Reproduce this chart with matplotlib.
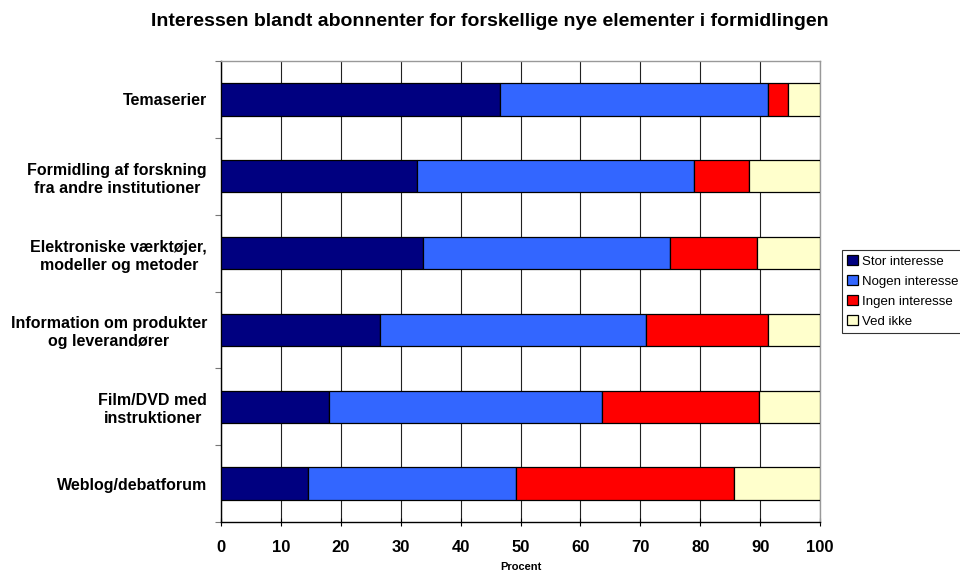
import matplotlib.pyplot as plt
import numpy as np

plt.rcParams['font.family'] = ['Liberation Sans', 'DejaVu Sans']

# categories, top to bottom
categories = [
    'Temaserier',
    'Formidling af forskning\nfra andre institutioner',
    'Elektroniske værktøjer,\nmodeller og metoder',
    'Information om produkter\nog leverandører',
    'Film/DVD med\ninstruktioner',
    'Weblog/debatforum',
]

series_names = ['Stor interesse', 'Nogen interesse', 'Ingen interesse', 'Ved ikke']
stor = [46.5, 32.8, 33.8, 26.5, 18.1, 14.5]
nogen = [44.8, 46.2, 41.1, 44.5, 45.5, 34.7]
ingen = [3.3, 9.1, 14.6, 20.3, 26.2, 36.5]
ved_ikke = [5.4, 11.9, 10.5, 8.7, 10.2, 14.3]
colors = ['#000080', '#3366FF', '#FF0000', '#FFFFCC']

x_ticks = list(range(0, 101, 10))

fig = plt.figure(figsize=(9.6, 5.76), dpi=100)
ax = fig.add_axes([221 / 960, 1 - 522 / 576, (820 - 221) / 960, (522 - 61) / 576])

y = np.arange(len(categories))
left = np.zeros(len(categories))
for name, vals, c in zip(series_names, [stor, nogen, ingen, ved_ikke], colors):
    ax.barh(y, vals, left=left, height=0.42, color=c, edgecolor='black',
            linewidth=0.9, label=name, zorder=3)
    left += np.array(vals)

ax.set_xlim(0, 100)
ax.set_ylim(len(categories) - 0.5, -0.5)
ax.set_xticks(x_ticks)
ax.set_xticklabels([str(t) for t in x_ticks], fontsize=12, fontweight='bold')
ax.tick_params(axis='x', direction='inout', length=6, width=0.8, pad=10)
ax.xaxis.grid(True, color='#222222', linewidth=0.8, zorder=0)

ax.set_yticks(y)
ax.set_yticklabels(categories, fontsize=11.5, fontweight='bold')
for lbl in ax.get_yticklabels():
    lbl.set_multialignment('center')
    lbl.set_linespacing(1.25)
ax.tick_params(axis='y', which='major', length=0, pad=10)
ax.set_yticks(np.arange(-0.5, len(categories)), minor=True)
ax.tick_params(axis='y', which='minor', direction='out', length=4, width=0.8, color='#777777')

for s in ['top', 'right']:
    ax.spines[s].set_color('#999999')
    ax.spines[s].set_linewidth(1.0)
for s in ['left', 'bottom']:
    ax.spines[s].set_color('black')
    ax.spines[s].set_linewidth(1.0)

ax.set_xlabel('Procent', fontsize=8, fontweight='bold', labelpad=5)

fig.text(490 / 960, 1 - 21 / 576,
         'Interessen blandt abonnenter for forskellige nye elementer i formidlingen',
         ha='center', va='center', fontsize=14, fontweight='bold')

leg = fig.legend(loc='upper left', bbox_to_anchor=(842 / 960, 1 - 250 / 576),
                 fontsize=9.5, frameon=True, fancybox=False, edgecolor='black',
                 borderpad=0.4, handlelength=0.8, handleheight=0.8,
                 handletextpad=0.3, labelspacing=0.55, borderaxespad=0)
leg.get_frame().set_linewidth(0.8)

fig.savefig('out.png', dpi=100)
